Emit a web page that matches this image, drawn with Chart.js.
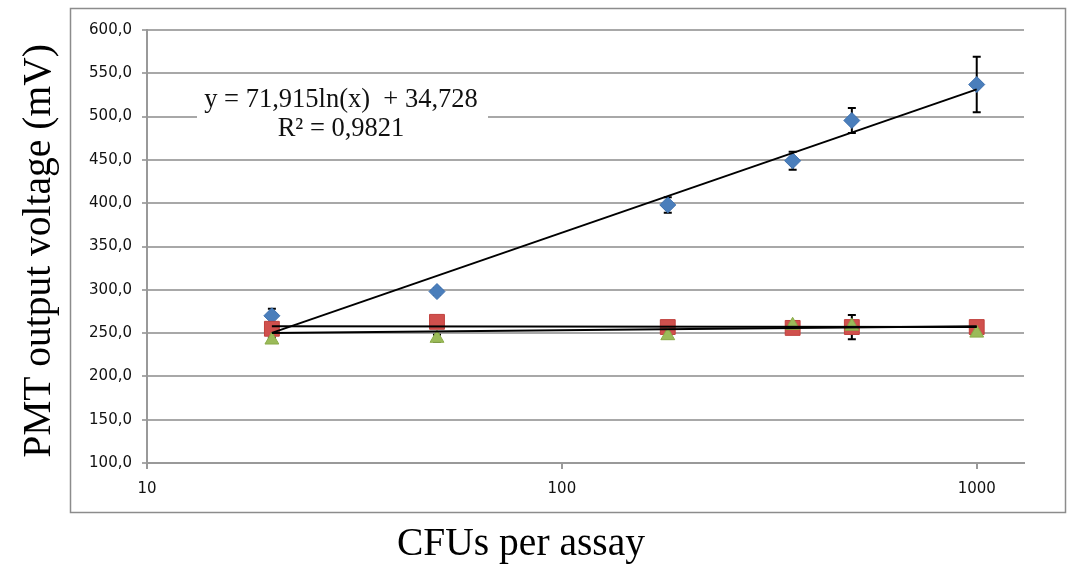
<!DOCTYPE html>
<html><head><meta charset="utf-8">
<script src="https://cdn.jsdelivr.net/npm/chart.js@4/dist/chart.umd.min.js"></script>
<style>html,body{margin:0;padding:0;background:#fff}#wrap{width:1069px;height:565px;position:relative}</style>
</head><body><div id="wrap"><canvas id="c" width="1069" height="565"></canvas></div>
<script>
const cfu = [20, 50, 180, 360, 500, 1000];
const blueValues = [270, 298, 398, 449, 495.5, 537];
const blueErrors = [8, 4, 9, 10.5, 14.5, 32];
const redValues = [255, 263, 257, 256, 257, 257];
const redErrors = [3, 3, 3, 3, 14, 3];
const greenValues = [242, 244, 247, 259, 258, 250];
const greenErrors = [3, 4, 3, 3, 3, 3];
const trendX = [20, 1000];
const blueTrend = [250.2, 531.5];
const redTrend = [258, 257];
const greenTrend = [250, 258];
const xTicks = [10, 100, 1000];
const yMin = 100, yMax = 600, yStep = 50;
const xTitle = 'CFUs per assay';
const yTitle = 'PMT output voltage (mV)';
const eqLines = ['y = 71,915ln(x)  + 34,728', 'R\u00B2 = 0,9821'];

const pts = (xs, ys) => xs.map((x, i) => ({x: x, y: ys[i]}));

const errorSeries = [
  {vals: blueValues, errs: blueErrors},
  {vals: redValues, errs: redErrors},
  {vals: greenValues, errs: greenErrors}
];

const decor = {
  id: 'decor',
  beforeDatasetsDraw(chart) {
    const ctx = chart.ctx, xs = chart.scales.x, ys = chart.scales.y;
    ctx.save();
    ctx.fillStyle = '#fff';
    ctx.fillRect(197, 86, 291, 60);
    ctx.fillStyle = '#111';
    ctx.font = '26.5px "Liberation Serif", serif';
    ctx.textAlign = 'center';
    ctx.textBaseline = 'middle';
    ctx.fillText(eqLines[0], 341, 100);
    ctx.fillText(eqLines[1], 341, 129);
    ctx.strokeStyle = '#000';
    ctx.lineWidth = 2;
    errorSeries.forEach(s => {
      cfu.forEach((c, i) => {
        const px = xs.getPixelForValue(c);
        const top = ys.getPixelForValue(s.vals[i] + s.errs[i]);
        const bot = ys.getPixelForValue(s.vals[i] - s.errs[i]);
        ctx.beginPath();
        ctx.moveTo(px, top); ctx.lineTo(px, bot);
        ctx.moveTo(px - 4, top); ctx.lineTo(px + 4, top);
        ctx.moveTo(px - 4, bot); ctx.lineTo(px + 4, bot);
        ctx.stroke();
      });
    });
    ctx.restore();
  },
  afterDraw(chart) {
    const ctx = chart.ctx;
    ctx.save();
    ctx.strokeStyle = '#8c8c8c';
    ctx.lineWidth = 1.5;
    ctx.strokeRect(70.5, 8.5, 995, 504);
    ctx.fillStyle = '#000';
    ctx.font = '39.5px "Liberation Serif", serif';
    ctx.textAlign = 'center';
    ctx.textBaseline = 'alphabetic';
    ctx.fillText(xTitle, 521, 555);
    ctx.translate(50, 251);
    ctx.rotate(-Math.PI / 2);
    ctx.fillText(yTitle, 0, 0);
    ctx.restore();
  }
};

const tickFont = {family: '"DejaVu Sans", sans-serif', size: 15};

new Chart(document.getElementById('c'), {
  type: 'scatter',
  data: {
    datasets: [
      {label: 'trend blue', type: 'line', data: pts(trendX, blueTrend), borderColor: '#000', borderWidth: 2, pointRadius: 0, fill: false, order: 0},
      {label: 'trend red', type: 'line', data: pts(trendX, redTrend), borderColor: '#000', borderWidth: 2, pointRadius: 0, fill: false, order: 0},
      {label: 'trend green', type: 'line', data: pts(trendX, greenTrend), borderColor: '#000', borderWidth: 2, pointRadius: 0, fill: false, order: 0},
      {label: 'green', data: pts(cfu, greenValues), pointStyle: 'triangle', pointRadius: 8, backgroundColor: '#9BBB59', borderColor: '#8aab48', borderWidth: 1, order: 1},
      {label: 'red', data: pts(cfu, redValues), pointStyle: 'rect', pointRadius: 10.5, backgroundColor: '#D0504D', borderColor: '#c0403d', borderWidth: 1, order: 2},
      {label: 'blue', data: pts(cfu, blueValues), pointStyle: 'rectRot', pointRadius: 8, backgroundColor: '#4A7EBB', borderColor: '#3c6fae', borderWidth: 1, order: 3}
    ]
  },
  options: {
    responsive: false,
    animation: false,
    devicePixelRatio: 1,
    layout: {padding: {top: 30, right: 45, left: 0, bottom: 0}},
    plugins: {legend: {display: false}, tooltip: {enabled: false}},
    scales: {
      x: {
        type: 'logarithmic', min: 10, max: 1300, bounds: 'data',
        afterBuildTicks: s => { s.ticks = xTicks.map(v => ({value: v})); },
        afterFit: s => { s.height = 102; },
        ticks: {callback: v => String(v), font: tickFont, color: '#111', padding: 11, maxRotation: 0, autoSkip: false},
        grid: {drawOnChartArea: false, drawTicks: true, tickLength: 6, color: '#999', lineWidth: 2},
        border: {color: '#999', width: 2}
      },
      y: {
        min: yMin, max: yMax,
        afterFit: s => { s.width = 147; },
        ticks: {stepSize: yStep, callback: v => v.toFixed(1).replace('.', ','), font: tickFont, color: '#111', padding: 10},
        grid: {color: '#a8a8a8', lineWidth: 2, tickLength: 5},
        border: {color: '#999', width: 2}
      }
    }
  },
  plugins: [decor]
});
</script></body></html>
